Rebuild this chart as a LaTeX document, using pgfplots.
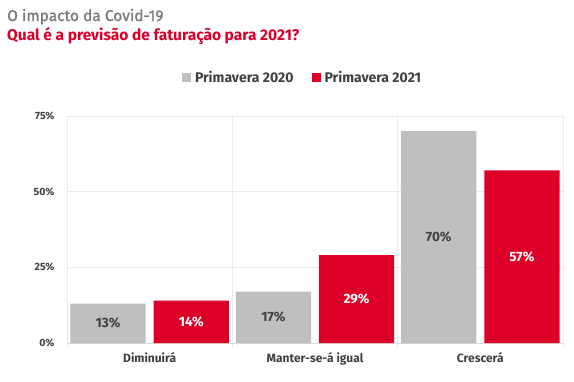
\documentclass[border=0pt]{standalone}
\usepackage{fontspec}
\setmainfont{Fira Sans}
\newfontfamily\titlefont[FakeBold=1.2]{Fira Sans}
\usepackage{pgfplots}
\pgfplotsset{compat=1.18}
\definecolor{cgray}{HTML}{BFBFBF}
\definecolor{cred}{HTML}{DC0029}
\definecolor{ctext}{HTML}{404040}
\definecolor{ctitle}{HTML}{7A7A7A}
\definecolor{cgrid}{HTML}{EBEBEB}
\definecolor{caxis}{HTML}{D9D9D9}
\begin{document}
\begin{tikzpicture}
\begin{axis}[
  name=ax,
  scale only axis, width=496pt, height=227pt,
  xmin=-0.5, xmax=2.5, ymin=0, ymax=75,
  ybar, bar width=0.455,
  /pgf/number format/assume math mode=true,
  axis x line*=bottom, axis y line*=left,
  separate axis lines,
  x axis line style={draw=caxis, -},
  y axis line style={draw=none},
  xtick={0,1,2},
  xticklabels={Diminuirá, Manter-se-á igual, Crescerá},
  minor xtick={-0.5,0.5,1.5,2.5},
  xminorgrids, ymajorgrids,
  grid style={draw=cgrid, line width=0.8pt},
  minor grid style={draw=cgrid, line width=0.8pt},
  ytick={0,25,50,75},
  yticklabel={\pgfmathprintnumber{\tick}\%},
  tick align=outside,
  major tick length=0pt,
  minor tick length=5pt,
  minor tick style={draw=cgrid, line width=0.8pt},
  xticklabel style={font=\fontsize{12}{14}\selectfont\bfseries, text=ctext, yshift=-6pt},
  yticklabel style={font=\fontsize{10.5}{12}\selectfont\bfseries, text=ctext, xshift=-9pt},
  nodes near coords={\pgfmathprintnumber{\pgfplotspointmeta}\%},
  visualization depends on={rawy \as \rawy},
  every node near coord/.append style={anchor=center, yshift={-0.5*\rawy*227/75*1pt}, font=\fontsize{13.5}{16}\selectfont\bfseries},
  legend style={at={(0.475,1.168)}, anchor=center, draw=none, fill=none,
    font=\fontsize{14}{16}\selectfont\bfseries, text=ctext,
    /tikz/every odd column/.append style={column sep=2pt},
    /tikz/every even column/.append style={column sep=16pt}},
  legend columns=2,
  legend image code/.code={\path[#1] (0pt,-4.5pt) rectangle (9pt,4.5pt);},
]
\addplot[fill=cgray, draw=none, bar shift=-0.2515, every node near coord/.append style={text=ctext}] coordinates {(0,13) (1,17) (2,70)};
\addplot[fill=cred, draw=none, bar shift=0.2515, every node near coord/.append style={text=white}] coordinates {(0,14) (1,29) (2,57)};
\legend{Primavera 2020, Primavera 2021}
\end{axis}
\node[anchor=base west, font=\fontsize{15.5}{18}\titlefont, text=ctitle, inner sep=0] at (-60pt,322pt) {O impacto da Covid-19};
\node[anchor=base west, font=\fontsize{15.5}{18}\selectfont\bfseries, text=cred, inner sep=0] at (-60pt,302pt) {Qual é a previsão de faturação para 2021?};
\path[use as bounding box] (-67pt,-38pt) rectangle (507pt,343pt);
\end{tikzpicture}
\end{document}
